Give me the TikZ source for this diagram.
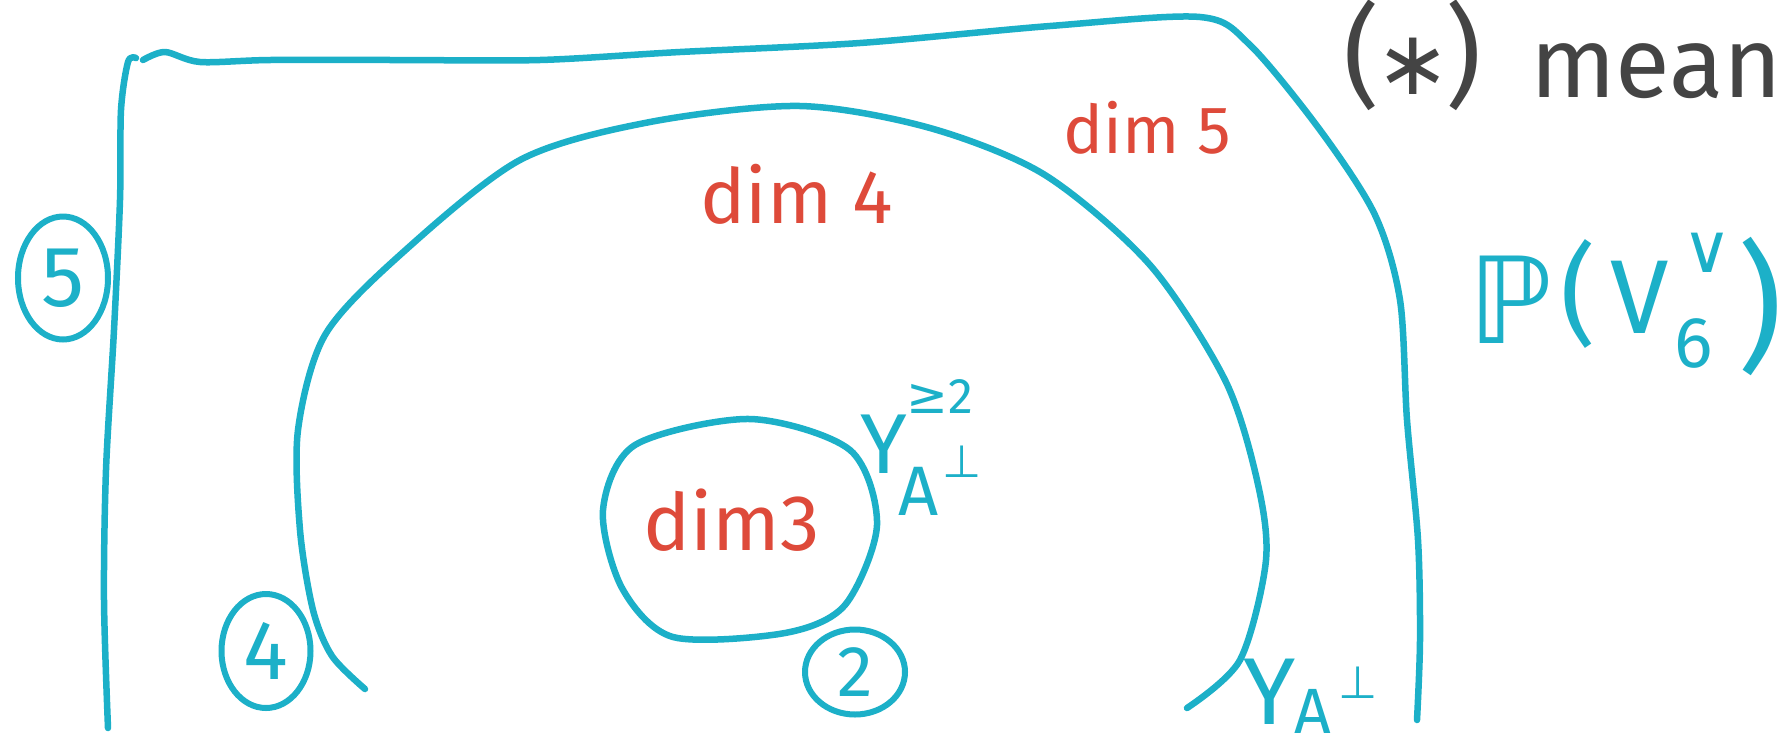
\documentclass[tikz,border=0pt]{standalone}
\usepackage{fontspec}
\setmainfont{Fira Sans}
\newfontfamily\dejavu{DejaVu Sans}
\usetikzlibrary{shapes.geometric}
\definecolor{cy}{RGB}{28,176,200}
\definecolor{rd}{RGB}{222,74,58}
\definecolor{gr}{RGB}{68,68,68}
\newcommand{\fsz}[1]{\fontsize{#1}{#1}\selectfont}
\begin{document}
\begin{tikzpicture}[x=1pt,y=-1pt,
  stroke/.style={draw=cy, line width=6.5pt, line cap=round, line join=round},
  redtxt/.style={text=rd, inner sep=0pt, anchor=base west},
  cytxt/.style={text=cy, inner sep=0pt, anchor=base west},
  graytxt/.style={text=gr, inner sep=0pt, anchor=base west},
  numcirc/.style={ellipse, draw=cy, line width=6pt, text=cy, inner sep=0pt}]
\useasboundingbox (0,0) rectangle (1783,748);
\fill[white] (0,0) rectangle (1783,748);
\clip (0,0) rectangle (1783,748);

% outer region: left side
\draw[stroke] plot[smooth] coordinates {(108,728) (104,600) (106,470) (114,330) (120,200) (121,110) (128,62) (136,58)};
% outer region: top and right side
\draw[stroke] plot[smooth] coordinates {(143,60) (165,52) (200,62) (270,60) (400,60) (540,60) (680,52) (860,43) (1050,26) (1200,17) (1250,45) (1320,130) (1375,215) (1400,300) (1407,420) (1418,540) (1420,640) (1417,720)};
% middle arc
\draw[stroke] plot[smooth] coordinates {(365,689) (332,656) (313,610) (300,530) (298,430) (325,335) (400,255) (520,160) (650,122) (800,106) (930,128) (1045,175) (1150,265) (1225,380) (1257,480) (1266,560) (1240,660) (1187,708)};
% inner blob
\draw[stroke] plot[smooth cycle] coordinates {(603,510) (635,445) (750,419) (850,450) (877,525) (845,605) (785,633) (673,637) (622,588)};

% red labels
\node[redtxt, font=\fsz{76}] (d4) at (700,223) {dim 4};
\node[redtxt, font=\fsz{67}] (d5) at (1063,153) {dim 5};
\node[redtxt, font=\fsz{79}] (d3) at (643,550) {dim3};

% circled numbers
\node[numcirc, minimum width=90pt, minimum height=123pt, font=\fsz{86}] (c5) at (63,278) {5};
\node[numcirc, minimum width=89pt, minimum height=114pt, font=\fsz{84}] (c4) at (266,651) {4};
\node[numcirc, minimum width=100pt, minimum height=85pt, font=\fsz{72}] (c2) at (855,672) {2};

% Y^{>=2}_{A perp}
\node[cytxt, font=\fsz{85}] (yb) at (860,473) {Y};
\node[cytxt, font=\fsz{50}] (ybsup) at (906,413) {{\dejavu ≥}2};
\node[cytxt, font=\fsz{70}] (ybA) at (898,515) {A};
\node[cytxt, font=\fsz{45}\dejavu] (ybperp) at (942,477) {⊥};

% Y_{A perp}
\node[cytxt, font=\fsz{95}] (ya) at (1243,724) {Y};
\node[cytxt, font=\fsz{64}] (yaA) at (1294,733) {A};
\node[cytxt, font=\fsz{45}\dejavu] (yaperp) at (1338,698) {⊥};

% P(V_6^vee)
\node[cytxt, font=\fsz{120}\dejavu] (pP) at (1468,343) {ℙ};
\node[cytxt, font=\fsz{110}] (pl) at (1560,332) {(};
\node[cytxt, font=\fsz{105}] (pV) at (1610,333) {V};
\node[cytxt, font=\fsz{68}\dejavu] (pvee) at (1682,272) {∨};
\node[cytxt, font=\fsz{72}] (p6) at (1674,367) {6};
\node[cytxt, font=\fsz{140}] (pr) at (1737,355) {)};

% gray note
\node[graytxt, font=\fsz{112}] (ast) at (1343,94) {(\kern-0.04em{\dejavu\fsz{90}∗}\kern-0.04em)};
\node[graytxt, font=\fsz{100}] (mean) at (1530,97) {mean};
\end{tikzpicture}
\end{document}
